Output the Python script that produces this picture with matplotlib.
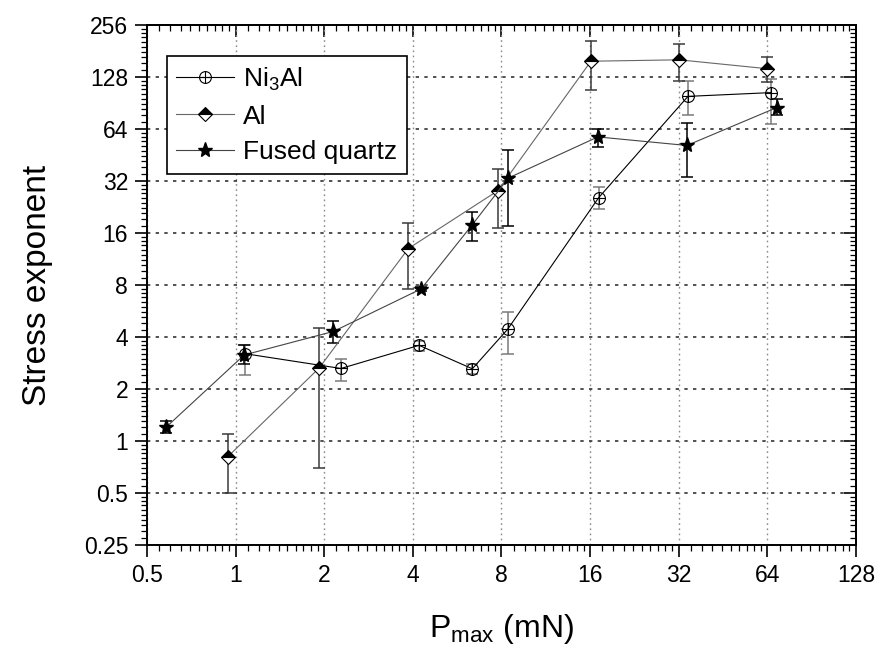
import numpy as np
import matplotlib
matplotlib.use("Agg")
import matplotlib.pyplot as plt
from matplotlib.path import Path
from matplotlib.ticker import FixedLocator, FixedFormatter, NullFormatter

# ---- data: (P_max, stress exponent, lower bound, upper bound) ----
ni3al_p = [1.08, 2.28, 4.2, 6.37, 8.4, 17.1, 34.4, 65.9]
ni3al_n = [3.2, 2.63, 3.58, 2.62, 4.44, 25.6, 98.9, 104]
ni3al_lo = [2.4, 2.22, 3.32, 2.45, 3.2, 21.9, 76.8, 68.8]
ni3al_hi = [3.6, 3.0, 3.79, 2.8, 5.62, 29.4, 120.9, 125]

al_p = [0.94, 1.92, 3.86, 7.77, 16.1, 32.1, 64.0]
al_n = [0.81, 2.64, 13.0, 28.1, 158, 161, 143]
al_lo = [0.5, 0.7, 7.6, 17.0, 108, 122, 120]
al_hi = [1.1, 4.5, 18.2, 37.7, 207, 199, 167]

fq_p = [0.58, 1.07, 2.15, 4.27, 6.34, 8.44, 17.0, 34.1, 68.9]
fq_n = [1.2, 3.15, 4.31, 7.6, 17.7, 33.3, 57.6, 51.4, 85.2]
fq_lo = [1.11, 2.8, 3.71, 7.4, 14.3, 17.5, 50.3, 33.8, 76.8]
fq_hi = [1.3, 3.6, 4.92, 7.8, 21.1, 48.6, 64.4, 69.3, 95.2]

major_ticks = [0.25, 0.5, 1, 2, 4, 8, 16, 32, 64, 128, 256]
tick_labels = ["0.25", "0.5", "1", "2", "4", "8", "16", "32", "64", "128", "256"]

plt.rcParams["font.family"] = ["Liberation Sans", "DejaVu Sans"]
plt.rcParams["mathtext.fontset"] = "custom"
plt.rcParams["mathtext.rm"] = "Liberation Sans"
plt.rcParams["mathtext.it"] = "Liberation Sans:italic"

fig = plt.figure(figsize=(8.8, 6.62), dpi=100)
ax = fig.add_axes([0.1670, 0.1767, 0.8057, 0.7855])

ax.set_xscale("log", base=2)
ax.set_yscale("log", base=2)
ax.set_xlim(0.5, 128)
ax.set_ylim(0.25, 256)

# circle-with-cross marker
circ = Path.unit_circle()
hbar = Path([[-1, 0], [1, 0]], [Path.MOVETO, Path.LINETO])
vbar = Path([[0, -1], [0, 1]], [Path.MOVETO, Path.LINETO])
oplus = Path.make_compound_path(circ, hbar, vbar)


def yerr(n, lo, hi):
    n, lo, hi = map(np.asarray, (n, lo, hi))
    return np.vstack([n - lo, hi - n])


eb_kw = dict(capsize=4.2, elinewidth=1.1, capthick=1.1)

ax.errorbar(ni3al_p, ni3al_n, yerr=yerr(ni3al_n, ni3al_lo, ni3al_hi), fmt="none",
            ecolor="#7a7a7a", zorder=3, **eb_kw)
ax.errorbar(al_p, al_n, yerr=yerr(al_n, al_lo, al_hi), fmt="none",
            ecolor="#3a3a3a", zorder=3, **eb_kw)
ax.errorbar(fq_p, fq_n, yerr=yerr(fq_n, fq_lo, fq_hi), fmt="none",
            ecolor="#000000", zorder=3, **eb_kw)

l1, = ax.plot(ni3al_p, ni3al_n, color="#000000", lw=0.8, marker=oplus, ms=8.5,
              mfc="none", mec="#000000", mew=0.8, zorder=4, label=r"Ni$_\mathrm{3}$Al")
l2, = ax.plot(al_p, al_n, color="#666666", lw=0.8, marker="D", ms=7,
              fillstyle="top", mfc="black", mfcalt="white", mec="black", mew=0.8,
              zorder=4, label="Al")
l3, = ax.plot(fq_p, fq_n, color="#444444", lw=0.8, marker="*", ms=11,
              mfc="black", mec="black", zorder=5, label="Fused quartz")

# grid
ax.set_axisbelow(True)
ax.yaxis.grid(True, which="major", color="#333333", ls=(0, (2, 3.2)), lw=1.2)
ax.xaxis.grid(True, which="major", color="#8a8a8a", ls=(0, (1.2, 2.5)), lw=1.0)


def minor_positions(lo, hi):
    out = []
    v = lo
    while v < hi:
        out.extend(v * (1 + i / 10) for i in range(1, 10))
        v *= 2
    return out


xmaj = [t for t in major_ticks if 0.5 <= t <= 128]
xlab = [l for t, l in zip(major_ticks, tick_labels) if 0.5 <= t <= 128]

ax.xaxis.set_major_locator(FixedLocator(xmaj))
ax.xaxis.set_major_formatter(FixedFormatter(xlab))
ax.xaxis.set_minor_locator(FixedLocator(minor_positions(0.5, 128)))
ax.xaxis.set_minor_formatter(NullFormatter())
ax.yaxis.set_major_locator(FixedLocator(major_ticks))
ax.yaxis.set_major_formatter(FixedFormatter(tick_labels))
ax.yaxis.set_minor_locator(FixedLocator(minor_positions(0.25, 256)))
ax.yaxis.set_minor_formatter(NullFormatter())

ax.tick_params(which="both", direction="out", top=False, right=False,
               labelsize=16.5, pad=5)
ax.tick_params(which="major", length=8.5, width=1.2)
ax.tick_params(which="minor", length=4.3, width=0.9)

for s in ax.spines.values():
    s.set_linewidth(1.4)

# mirrored inward ticks on the top and right edges
top = ax.secondary_xaxis("top")
top.xaxis.set_major_locator(FixedLocator(xmaj))
top.xaxis.set_minor_locator(FixedLocator(minor_positions(0.5, 128)))
top.xaxis.set_major_formatter(NullFormatter())
top.xaxis.set_minor_formatter(NullFormatter())
top.tick_params(which="both", direction="in")
top.tick_params(which="major", length=8.5, width=1.2)
top.tick_params(which="minor", length=4.3, width=0.9)
top.spines["top"].set_linewidth(1.4)

right = ax.secondary_yaxis("right")
right.yaxis.set_major_locator(FixedLocator(major_ticks))
right.yaxis.set_minor_locator(FixedLocator(minor_positions(0.25, 256)))
right.yaxis.set_major_formatter(NullFormatter())
right.yaxis.set_minor_formatter(NullFormatter())
right.tick_params(which="both", direction="in")
right.tick_params(which="major", length=8.5, width=1.2)
right.tick_params(which="minor", length=4.3, width=0.9)
right.spines["right"].set_linewidth(1.4)

ax.set_xlabel(r"P$_\mathrm{max}$ (mN)", fontsize=23, labelpad=18)
ax.set_ylabel("Stress exponent", fontsize=24, labelpad=22)

leg = ax.legend(handles=[l1, l2, l3], loc="upper left",
                bbox_to_anchor=(0.028, 0.94), borderaxespad=0,
                fontsize=19, frameon=True, fancybox=False, framealpha=1,
                edgecolor="black", handlelength=2.2, handletextpad=0.35,
                labelspacing=0.45, borderpad=0.35)
leg.get_frame().set_linewidth(1.2)

fig.savefig("out.png", dpi=100)
